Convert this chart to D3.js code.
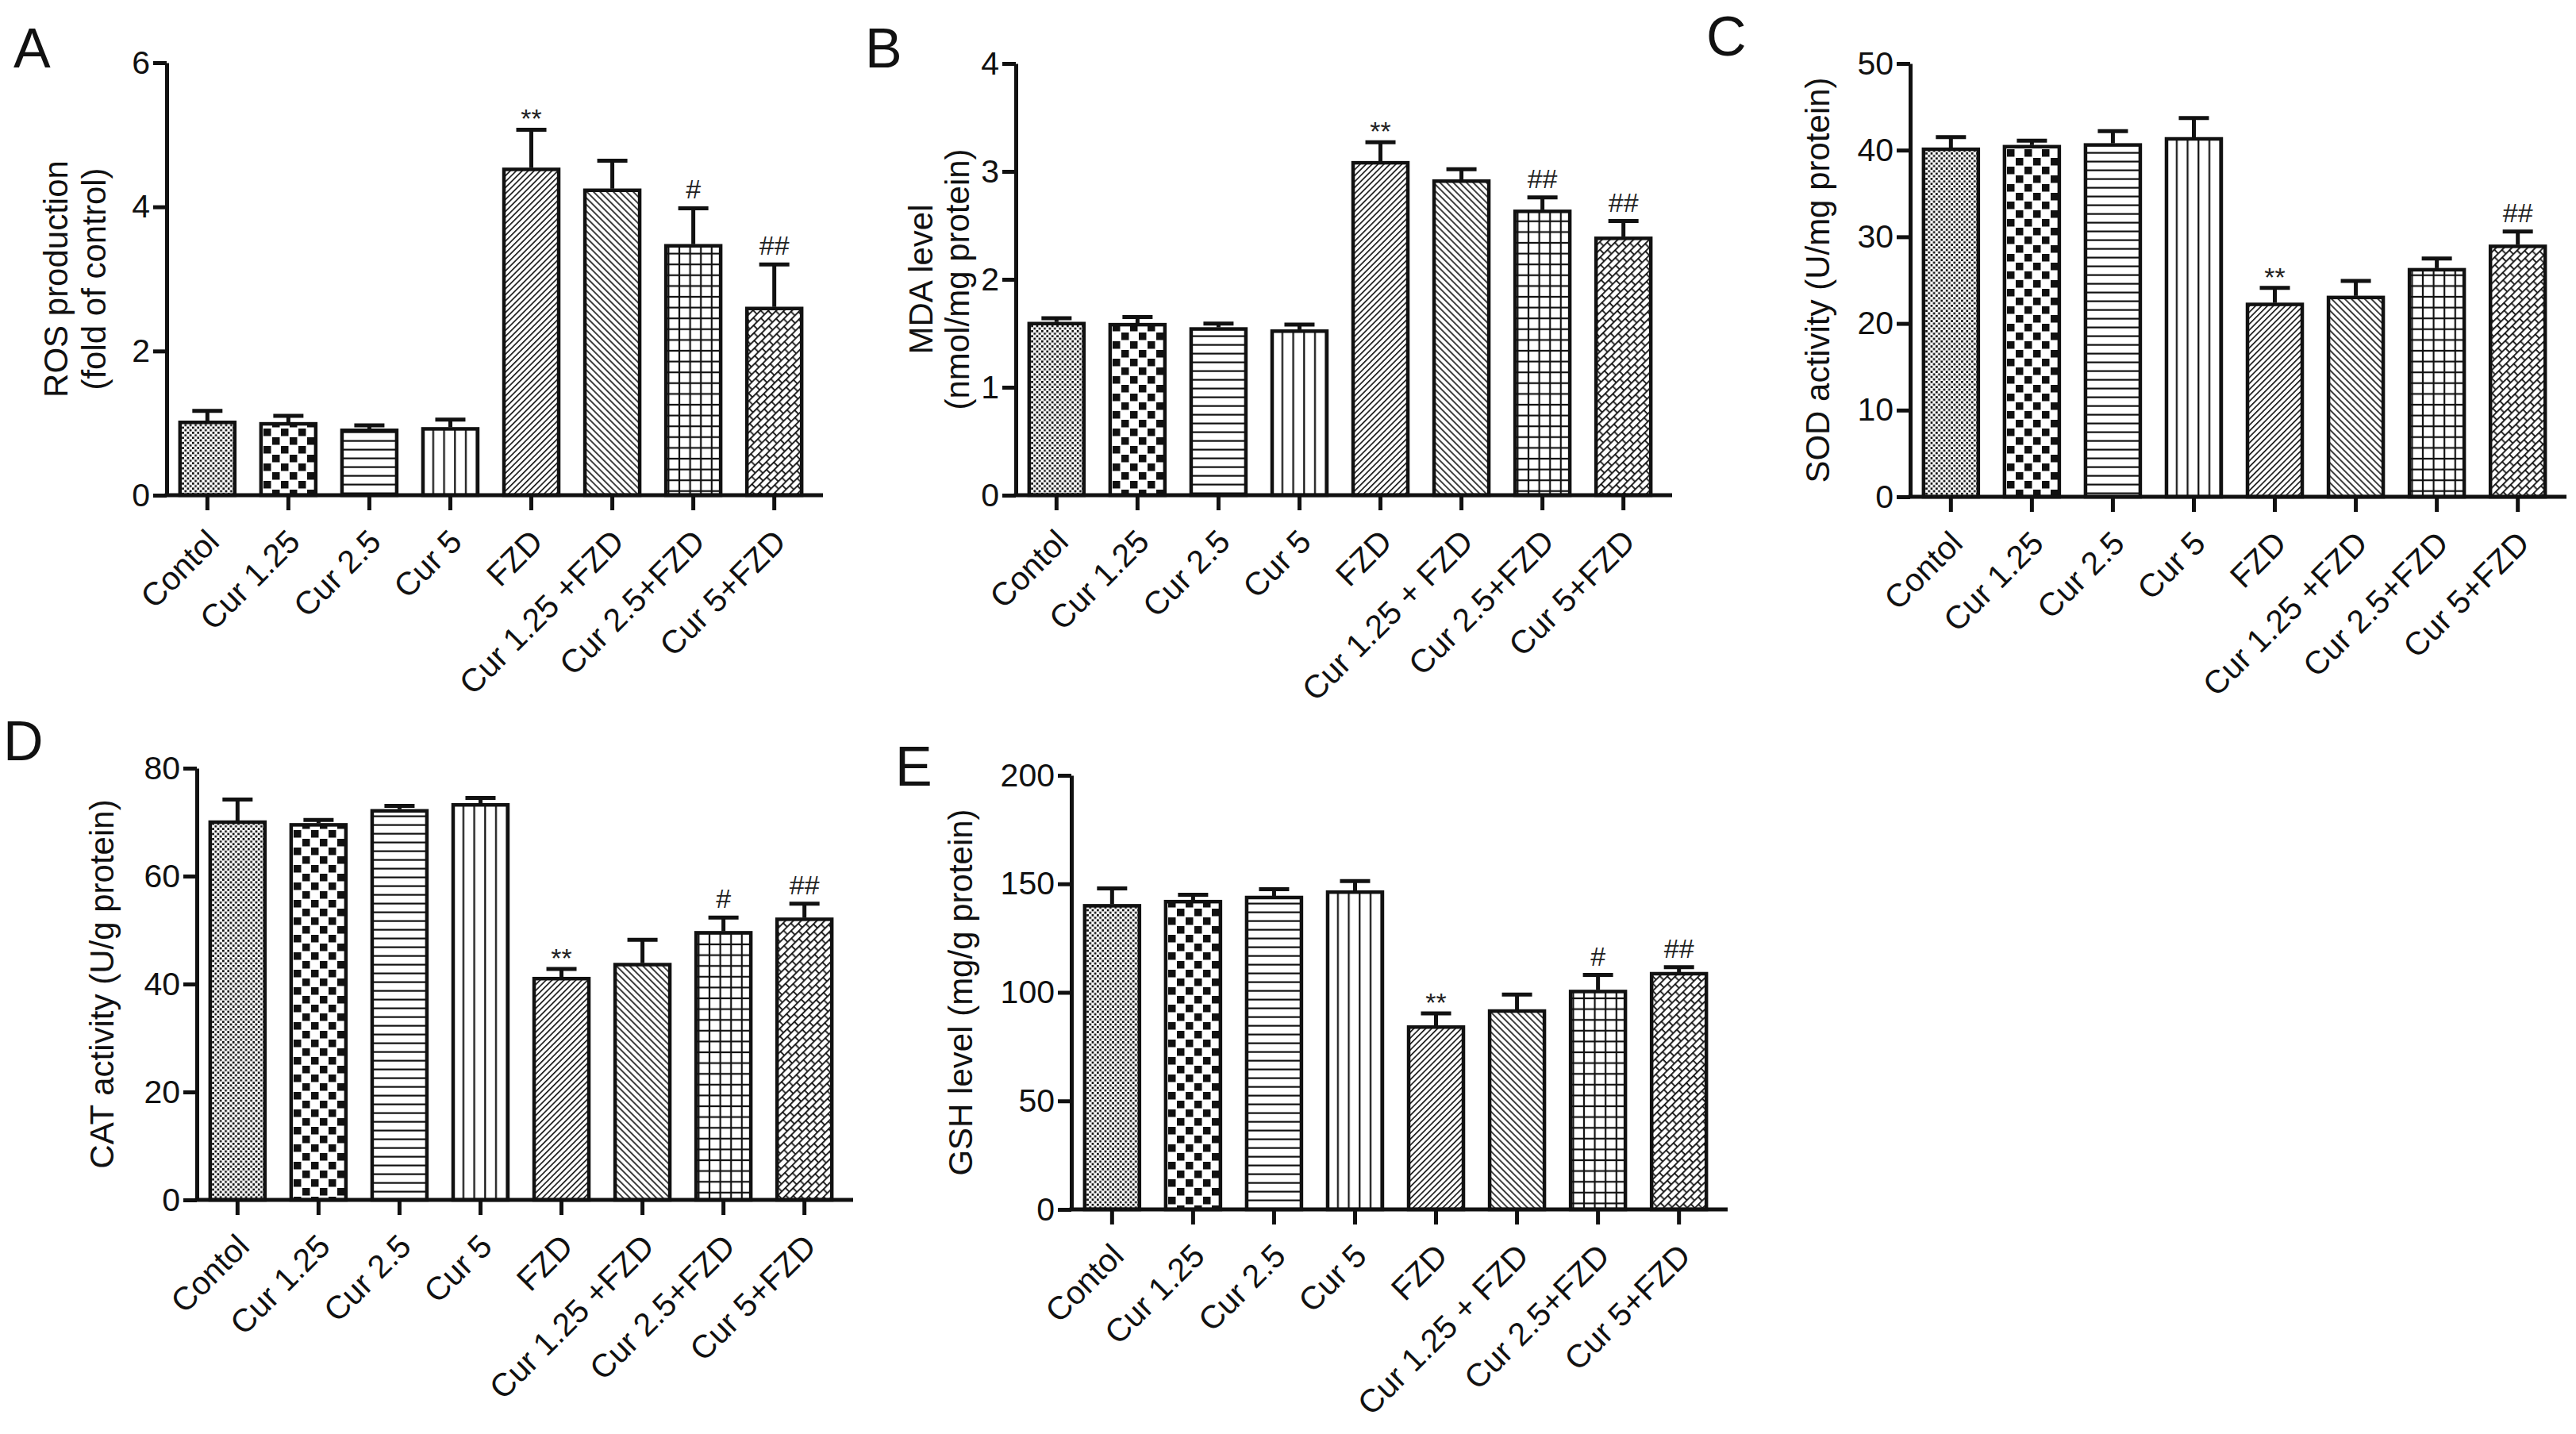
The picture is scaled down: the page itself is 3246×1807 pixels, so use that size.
<!DOCTYPE html>
<html>
<head>
<meta charset="utf-8">
<script src="https://cdn.jsdelivr.net/npm/d3@7"></script>
<style>
  html, body { margin: 0; padding: 0; background: #fff; }
  text { font-family: "Liberation Sans", Arial, sans-serif; fill: #111; }
</style>
</head>
<body>
<div id="wrapper"></div>
<script>
// data
const groups = ["Contol", "Cur 1.25", "Cur 2.5", "Cur 5", "FZD", "Cur 1.25 +FZD", "Cur 2.5+FZD", "Cur 5+FZD"];
const labelsSpaced = ["Contol", "Cur 1.25", "Cur 2.5", "Cur 5", "FZD", "Cur 1.25 + FZD", "Cur 2.5+FZD", "Cur 5+FZD"];

const rosMean = [1.01, 0.99, 0.90, 0.92, 4.52, 4.23, 3.46, 2.59];
const rosErr  = [0.16, 0.11, 0.07, 0.13, 0.55, 0.41, 0.52, 0.61];
const rosMarks = ["", "", "", "", "**", "", "#", "##"];
const rosTicks = [0, 2, 4, 6];

const mdaMean = [1.59, 1.58, 1.54, 1.52, 3.08, 2.91, 2.63, 2.38];
const mdaErr  = [0.05, 0.07, 0.05, 0.06, 0.19, 0.11, 0.13, 0.16];
const mdaMarks = ["", "", "", "", "**", "", "##", "##"];
const mdaTicks = [0, 1, 2, 3, 4];

const sodMean = [40.1, 40.4, 40.6, 41.3, 22.2, 23.0, 26.2, 28.9];
const sodErr  = [1.4, 0.7, 1.6, 2.4, 1.9, 1.9, 1.3, 1.7];
const sodMarks = ["", "", "", "", "**", "", "", "##"];
const sodTicks = [0, 10, 20, 30, 40, 50];

const catMean = [70.0, 69.5, 72.1, 73.2, 41.0, 43.6, 49.5, 52.0];
const catErr  = [4.2, 0.9, 0.9, 1.3, 1.8, 4.6, 2.8, 2.9];
const catMarks = ["", "", "", "", "**", "", "#", "##"];
const catTicks = [0, 20, 40, 60, 80];

const gshMean = [139.9, 141.8, 143.7, 146.2, 84.0, 91.4, 100.4, 108.6];
const gshErr  = [8.0, 3.2, 3.8, 5.1, 6.3, 7.6, 7.6, 3.0];
const gshMarks = ["", "", "", "", "**", "", "#", "##"];
const gshTicks = [0, 50, 100, 150, 200];

// panel placement
const panels = [
    { letter: "A", lx: 17, ly: 85, axisX: 210, top: 79, zero: 624,
      mean: rosMean, err: rosErr, marks: rosMarks, ticks: rosTicks, labels: groups,
      title: ["ROS production", "(fold of control)"], titleX: [70, 118] },
    { letter: "B", lx: 1090, ly: 85, axisX: 1280, top: 80, zero: 624,
      mean: mdaMean, err: mdaErr, marks: mdaMarks, ticks: mdaTicks, labels: labelsSpaced,
      title: ["MDA level", "(nmol/mg protein)"], titleX: [1160, 1206] },
    { letter: "C", lx: 2150, ly: 70, axisX: 2407, top: 80, zero: 626,
      mean: sodMean, err: sodErr, marks: sodMarks, ticks: sodTicks, labels: groups,
      title: ["SOD activity (U/mg protein)"], titleX: [2290] },
    { letter: "D", lx: 4, ly: 958, axisX: 248, top: 968, zero: 1512,
      mean: catMean, err: catErr, marks: catMarks, ticks: catTicks, labels: groups,
      title: ["CAT activity (U/g protein)"], titleX: [128] },
    { letter: "E", lx: 1128, ly: 990, axisX: 1350, top: 977, zero: 1524,
      mean: gshMean, err: gshErr, marks: gshMarks, ticks: gshTicks, labels: labelsSpaced,
      title: ["GSH level (mg/g protein)"], titleX: [1210] }
];

const width = 3246;
const height = 1807;
const bandWidth = 817;

const svg = d3.select("#wrapper")
    .append("svg")
        .attr("width", width)
        .attr("height", height);

svg.append("rect")
    .attr("width", width)
    .attr("height", height)
    .attr("fill", "#fff");

// fill patterns, one per group
const defs = svg.append("defs");

function addPattern(id, w, h, rotate) {
    const p = defs.append("pattern")
        .attr("id", id)
        .attr("patternUnits", "userSpaceOnUse")
        .attr("width", w)
        .attr("height", h);
    if (rotate) p.attr("patternTransform", `rotate(${rotate})`);
    p.append("rect").attr("width", w).attr("height", h).attr("fill", "#fff");
    return p;
}

function block(p, x, y, w, h) {
    p.append("rect").attr("x", x).attr("y", y).attr("width", w).attr("height", h).attr("fill", "#111");
}

// Contol: fine checker
let p = addPattern("pat0", 6.4, 6.4);
block(p, 0, 0, 2.7, 2.7);
block(p, 3.2, 3.2, 2.7, 2.7);

// Cur 1.25: coarse checker
p = addPattern("pat1", 22, 22);
block(p, 1, 1, 9.5, 9.5);
block(p, 12, 12, 9.5, 9.5);

// Cur 2.5: horizontal lines
p = addPattern("pat2", 10, 11);
block(p, 0, 4.5, 10, 2.2);

// Cur 5: vertical lines
p = addPattern("pat3", 13.7, 10);
block(p, 6, 0, 2.2, 10);

// FZD: "/" lines
p = addPattern("pat4", 5.3, 10, 45);
block(p, 1.8, 0, 1.6, 10);

// Cur 1.25 + FZD: "\" lines
p = addPattern("pat5", 5.9, 10, -45);
block(p, 2.1, 0, 1.6, 10);

// Cur 2.5 + FZD: grid
p = addPattern("pat6", 13.6, 13.6);
block(p, 5.7, 0, 2.2, 13.6);
block(p, 0, 5.7, 13.6, 2.2);

// Cur 5 + FZD: "/" lines joined by staggered rungs
p = addPattern("pat7", 14, 13, 45);
block(p, 0, 0, 1.8, 13);
block(p, 7, 0, 1.8, 13);
block(p, 0, 0, 7, 1.8);
block(p, 7, 6.5, 7, 1.8);

const patternIds = groups.map((g, i) => `url(#pat${i})`);

panels.forEach(drawPanel);

function drawPanel(pn) {

    const inner = svg.append("g")
        .attr("transform", `translate(${pn.axisX},0)`);

    const xScale = d3.scaleBand()
        .domain(groups)
        .range([0, bandWidth])
        .paddingInner(0.324)
        .paddingOuter(0.165);

    const yScale = d3.scaleLinear()
        .domain([0, d3.max(pn.ticks)])
        .range([pn.zero, pn.top]);

    const rows = groups.map((g, i) => ({
        group: g, label: pn.labels[i], mean: pn.mean[i], err: pn.err[i], mark: pn.marks[i], fill: patternIds[i]
    }));

    // bars
    inner.append("g")
        .selectAll("rect")
        .data(rows)
        .join("rect")
            .attr("x", d => xScale(d.group))
            .attr("y", d => yScale(d.mean))
            .attr("width", xScale.bandwidth())
            .attr("height", d => yScale(0) - yScale(d.mean))
            .attr("fill", d => d.fill)
            .attr("stroke", "#111")
            .attr("stroke-width", 4.5);

    // upper error bars
    const capHalf = 19;
    const errs = inner.append("g")
        .attr("stroke", "#111")
        .attr("stroke-width", 5)
        .selectAll("g")
        .data(rows)
        .join("g")
            .attr("transform", d => `translate(${xScale(d.group) + xScale.bandwidth() / 2},0)`);

    errs.append("line")
        .attr("y1", d => yScale(d.mean) - 2)
        .attr("y2", d => yScale(d.mean + d.err));

    errs.append("line")
        .attr("x1", -capHalf)
        .attr("x2", capHalf)
        .attr("y1", d => yScale(d.mean + d.err))
        .attr("y2", d => yScale(d.mean + d.err));

    // significance marks
    inner.append("g")
        .selectAll("text")
        .data(rows.filter(d => d.mark))
        .join("text")
            .attr("x", d => xScale(d.group) + xScale.bandwidth() / 2)
            .attr("y", d => yScale(d.mean + d.err) - (d.mark.includes("*") ? 2 : 12))
            .attr("text-anchor", "middle")
            .style("font-size", "34px")
            .style("fill", "#222")
            .text(d => d.mark);

    // axes
    const yAxis = inner.append("g")
        .call(d3.axisLeft(yScale)
            .tickValues(pn.ticks)
            .tickFormat(d3.format("d"))
            .tickSize(17)
            .tickSizeOuter(0)
            .tickPadding(4));
    yAxis.select(".domain").attr("stroke", "#111").attr("stroke-width", 5);
    yAxis.selectAll(".tick line").attr("stroke", "#111").attr("stroke-width", 5);
    yAxis.selectAll(".tick text")
        .attr("fill", "#111")
        .style("font-size", "41px")
        .style("font-family", "Liberation Sans, Arial, sans-serif");

    const xAxis = inner.append("g")
        .attr("transform", `translate(0,${yScale(0)})`)
        .call(d3.axisBottom(xScale).tickSize(19).tickSizeOuter(0).tickFormat((g, i) => pn.labels[i]));
    xAxis.select(".domain").remove();
    xAxis.append("line")
        .attr("x1", -2.5)
        .attr("x2", bandWidth + 10)
        .attr("stroke", "#111")
        .attr("stroke-width", 5);
    xAxis.selectAll(".tick line").attr("stroke", "#111").attr("stroke-width", 5);
    xAxis.selectAll(".tick text")
        .attr("x", 0)
        .attr("y", 0)
        .attr("dy", 0)
        .attr("transform", "translate(17,61) rotate(-45)")
        .attr("text-anchor", "end")
        .attr("fill", "#111")
        .style("font-size", "41px")
        .style("font-family", "Liberation Sans, Arial, sans-serif");

    // axis title
    const midY = (pn.top + pn.zero) / 2;
    pn.title.forEach((t, i) => {
        svg.append("text")
            .attr("transform", `translate(${pn.titleX[i]},${midY}) rotate(-90)`)
            .attr("text-anchor", "middle")
            .attr("dy", "0.36em")
            .style("font-size", "42px")
            .text(t);
    });

    // panel letter
    svg.append("text")
        .attr("x", pn.lx)
        .attr("y", pn.ly)
        .style("font-size", "70px")
        .text(pn.letter);
}
</script>
</body>
</html>
